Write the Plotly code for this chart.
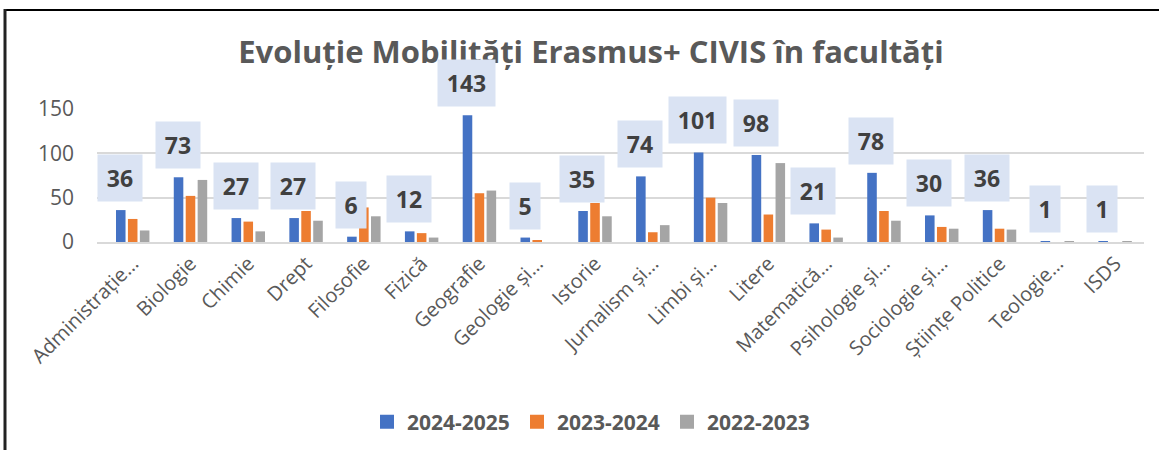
import plotly.graph_objects as go

categories = ["Administrație…", "Biologie", "Chimie", "Drept", "Filosofie", "Fizică",
              "Geografie", "Geologie și…", "Istorie", "Jurnalism și…", "Limbi și…", "Litere",
              "Matematică…", "Psihologie și…", "Sociologie și…", "Științe Politice",
              "Teologie…", "ISDS"]
v_2024_2025 = [36, 73, 27, 27, 6, 12, 143, 5, 35, 74, 101, 98, 21, 78, 30, 36, 1, 1]
v_2023_2024 = [26, 52, 23, 35, 39, 10, 55, 2, 44, 11, 50, 31, 14, 35, 17, 15, 0, 0]
v_2022_2023 = [13, 70, 12, 24, 29, 5, 58, 0, 29, 19, 44, 89, 5, 24, 15, 14, 1, 1]
series_names = ["2024-2025", "2023-2024", "2022-2023"]
colors = ["#4472C4", "#ED7D31", "#A5A5A5"]
y_ticks = [0, 50, 100, 150]

FONT = "Open Sans"
W, H = 1159, 450
L, R, T, B = 97, 15, 109, 208
plot_w = W - L - R
plot_h = H - T - B

fig = go.Figure()
for name, vals, col in zip(series_names, [v_2024_2025, v_2023_2024, v_2022_2023], colors):
    fig.add_trace(go.Bar(x=categories, y=vals, name=name, marker_color=col,
                         marker_line_width=0, showlegend=False))
# legend entries with larger square symbols
for name, col in zip(series_names, colors):
    fig.add_trace(go.Scatter(x=[None], y=[None], mode="markers", name=name,
                             marker=dict(symbol="square", size=14, color=col),
                             showlegend=True))

# data labels for the first series
for c, v in zip(categories, v_2024_2025):
    nd = len(str(v))
    fig.add_annotation(x=c, y=v, xref="x", yref="y", text=f"<b>{v}</b>",
                       showarrow=False, xanchor="center", yanchor="bottom",
                       xshift=-12.7, yshift=8,
                       width={1: 18, 2: 32, 3: 45}[nd], height=34,
                       bgcolor="#DAE3F3", borderpad=6,
                       font=dict(family=FONT, size=23, color="#404040"))

# chart border (top and left)
def px2x(px):
    return (px - L) / plot_w

def py2y(py):
    return (H - B - py) / plot_h

fig.add_shape(type="line", xref="paper", yref="paper",
              x0=px2x(4), x1=px2x(W + 5), y0=py2y(10), y1=py2y(10),
              line=dict(color="#000000", width=2))
fig.add_shape(type="line", xref="paper", yref="paper",
              x0=px2x(5), x1=px2x(5), y0=py2y(9), y1=py2y(H + 5),
              line=dict(color="#222222", width=3))

fig.update_layout(
    width=W, height=H,
    margin=dict(l=L, r=R, t=T, b=B),
    paper_bgcolor="white", plot_bgcolor="white",
    barmode="group", bargap=0.38, bargroupgap=0.2,
    title=dict(text="<b>Evoluție Mobilități Erasmus+ CIVIS în facultăți</b>",
               x=591 / W, xanchor="center", xref="container",
               y=1 - 52 / H, yanchor="middle", yref="container",
               font=dict(family=FONT, size=31, color="#595959")),
    legend=dict(orientation="h", xref="container", yref="container",
                x=592 / W, xanchor="center", y=1 - 422 / H, yanchor="middle",
                font=dict(family=FONT, size=21, color="#595959", weight="bold"),
                itemwidth=30, traceorder="normal",
                entrywidth=105, entrywidthmode="pixels"),
    font=dict(family=FONT, color="#595959"),
    showlegend=True,
)
fig.update_xaxes(tickangle=-45, tickfont=dict(family=FONT, size=20, color="#595959"),
                 showline=True, linecolor="#D9D9D9", linewidth=2, ticks="",
                 showgrid=False)
fig.update_yaxes(range=[0, 150], tickvals=y_ticks, showgrid=True, gridcolor="#D9D9D9",
                 gridwidth=2, zeroline=False,
                 tickfont=dict(family=FONT, size=21, color="#595959"),
                 ticks="", ticklabelstandoff=22)

fig.write_html("out.html", config={"displayModeBar": False},
               post_script="document.body.style.margin='0';")
